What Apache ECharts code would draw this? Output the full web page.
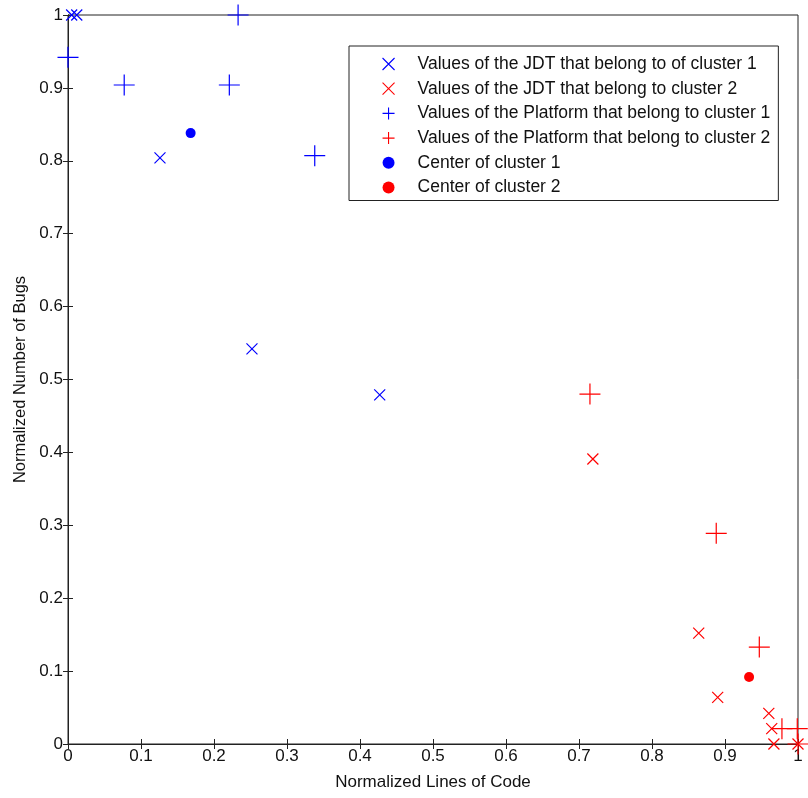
<!DOCTYPE html>
<html>
<head>
<meta charset="utf-8">
<script src="https://cdn.jsdelivr.net/npm/echarts@6/dist/echarts.min.js"></script>
<style>
  html, body { margin: 0; padding: 0; background: #fff; }
  #main { width: 808px; height: 798px; }
</style>
</head>
<body>
<div id="main"></div>
<script>
// values: [normalized LOC, normalized bugs]
var jdtCluster1 = [[0.005, 1], [0.012, 1], [0.126, 0.804], [0.252, 0.542], [0.427, 0.479]];
var jdtCluster2 = [[0.719, 0.391], [0.864, 0.152], [0.890, 0.064], [0.960, 0.042], [0.964, 0.021], [0.967, 0], [1, 0]];
var platformCluster1 = [[0, 0.942], [0.077, 0.904], [0.221, 0.904], [0.233, 1], [0.338, 0.807]];
var platformCluster2 = [[0.715, 0.480], [0.888, 0.289], [0.947, 0.133], [0.978, 0.021], [0.999, 0.021], [1, 0]];
var center1 = [[0.168, 0.838]];
var center2 = [[0.933, 0.092]];

var seriesNames = [
  'Values of the JDT that belong to of cluster 1',
  'Values of the JDT that belong to cluster 2',
  'Values of the Platform that belong to cluster 1',
  'Values of the Platform that belong to cluster 2',
  'Center of cluster 1',
  'Center of cluster 2'
];

var FONT = 'Liberation Sans, Arial, sans-serif';
var crossSym = 'path://M0,0L10,10M0,10L10,0';
var plusSym = 'path://M5,0L5,10M0,5L10,5';

function markSeries(name, data, sym, size, col) {
  return {
    name: name,
    type: 'scatter',
    data: data,
    symbol: sym,
    symbolSize: size,
    clip: false,
    itemStyle: { color: 'rgba(0,0,0,0)', borderColor: col, borderWidth: 1.2, opacity: 1 },
    emphasis: { disabled: true }
  };
}
function dotSeries(name, data, col) {
  return {
    name: name,
    type: 'scatter',
    data: data,
    symbol: 'circle',
    symbolSize: 10,
    clip: false,
    itemStyle: { color: col, opacity: 1 },
    emphasis: { disabled: true }
  };
}

var tickStyle = { color: '#222', width: 1 };
var chart = echarts.init(document.getElementById('main'));
chart.setOption({
  animation: false,
  backgroundColor: '#fff',
  grid: { left: 68, right: 10, top: 15, bottom: 54, show: true, borderColor: '#222', borderWidth: 1 },
  legend: {
    orient: 'vertical',
    left: 349, top: 46,
    padding: [9, 8, 4, 33],
    itemWidth: 48, itemHeight: 12, itemGap: 6.7,
    backgroundColor: '#fff',
    borderColor: '#222', borderWidth: 1,
    itemStyle: { borderWidth: 1.1 },
    textStyle: { fontFamily: FONT, fontSize: 17.5, color: '#111' },
    data: seriesNames
  },
  xAxis: [{
    type: 'value', min: 0, max: 1, interval: 0.1,
    name: 'Normalized Lines of Code', nameLocation: 'middle', nameGap: 30,
    nameTextStyle: { fontFamily: FONT, fontSize: 17, color: '#111' },
    axisLine: { show: true, onZero: false, lineStyle: { color: '#222' } },
    axisTick: { show: true, inside: true, length: 5, lineStyle: tickStyle },
    axisLabel: { fontFamily: FONT, fontSize: 17, color: '#111', margin: 4,
      formatter: function (v) { return String(+v.toFixed(1)); } },
    splitLine: { show: false }
  }, {
    type: 'value', min: 0, max: 1, interval: 0.1, position: 'top',
    axisLine: { show: true, lineStyle: { color: '#222' } },
    axisTick: { show: true, inside: true, length: 5, lineStyle: tickStyle },
    axisLabel: { show: false }, splitLine: { show: false }
  }],
  yAxis: [{
    type: 'value', min: 0, max: 1, interval: 0.1,
    name: 'Normalized Number of Bugs', nameLocation: 'middle', nameGap: 39,
    nameTextStyle: { fontFamily: FONT, fontSize: 16.5, color: '#111' },
    axisLine: { show: true, onZero: false, lineStyle: { color: '#222' } },
    axisTick: { show: true, inside: true, length: 5, lineStyle: tickStyle },
    axisLabel: { fontFamily: FONT, fontSize: 17, color: '#111', margin: 5,
      formatter: function (v) { return String(+v.toFixed(1)); } },
    splitLine: { show: false }
  }, {
    type: 'value', min: 0, max: 1, interval: 0.1, position: 'right',
    axisLine: { show: true, lineStyle: { color: '#222' } },
    axisTick: { show: true, inside: true, length: 5, lineStyle: tickStyle },
    axisLabel: { show: false }, splitLine: { show: false }
  }],
  series: [
    markSeries(seriesNames[0], jdtCluster1, crossSym, 11, '#0000ff'),
    markSeries(seriesNames[1], jdtCluster2, crossSym, 11, '#ff0000'),
    markSeries(seriesNames[2], platformCluster1, plusSym, 21, '#0000ff'),
    markSeries(seriesNames[3], platformCluster2, plusSym, 21, '#ff0000'),
    dotSeries(seriesNames[4], center1, '#0000ff'),
    dotSeries(seriesNames[5], center2, '#ff0000')
  ]
});
</script>
</body>
</html>
